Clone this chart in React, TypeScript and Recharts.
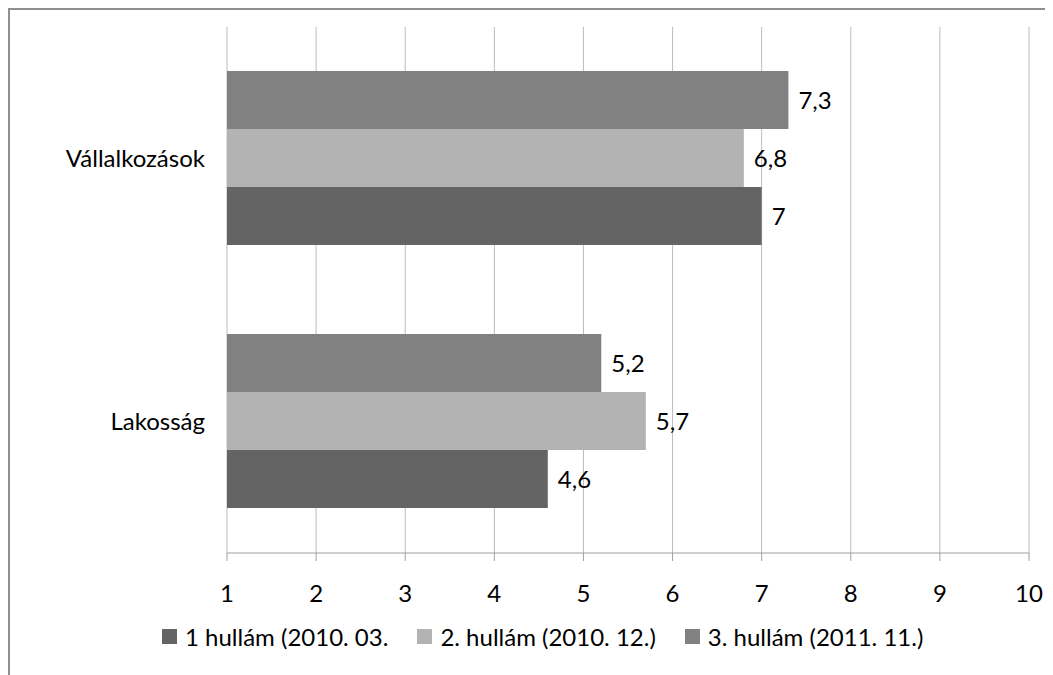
import React from "react";
import {
  BarChart,
  Bar,
  XAxis,
  YAxis,
  CartesianGrid,
  Legend,
  LabelList,
} from "recharts";

const categories = ["Vállalkozások", "Lakosság"];
const wave1 = [7, 4.6];
const wave2 = [6.8, 5.7];
const wave3 = [7.3, 5.2];
const seriesNames = [
  "1 hullám (2010. 03.",
  "2. hullám (2010. 12.)",
  "3. hullám (2011. 11.)",
];
const xTicks = [1, 2, 3, 4, 5, 6, 7, 8, 9, 10];
const bandEdges = [0, 1, 2];

const colors = ["#646464", "#b3b3b3", "#818181"];
const font = "Lato, 'Open Sans', sans-serif";

const data = categories.map((name, i) => ({
  name,
  w1: wave1[i],
  w2: wave2[i],
  w3: wave3[i],
}));

function fmt(v: any) {
  return String(v).replace(".", ",");
}

function LegendContent() {
  return (
    <div
      style={{
        display: "flex",
        alignItems: "center",
        height: 30,
        paddingLeft: 152,
        fontFamily: font,
        fontSize: 24,
        color: "#000",
      }}
    >
      {seriesNames.map((n, i) => (
        <div
          key={n}
          style={{ display: "flex", alignItems: "center", marginRight: 29 }}
        >
          <span
            style={{
              width: 15,
              height: 15,
              background: colors[i],
              display: "inline-block",
              marginRight: 8,
            }}
          />
          <span>{n}</span>
        </div>
      ))}
    </div>
  );
}

export default function App() {
  const labelStyle = { fontFamily: font, fontSize: 24, fill: "#000" };
  return (
    <div
      style={{
        width: 1043,
        height: 665,
        borderTop: "2px solid #909090",
        borderLeft: "2px solid #909090",
        background: "#fff",
      }}
    >
      <BarChart
        width={1043}
        height={665}
        data={data}
        layout="vertical"
        margin={{ top: 17, right: 24, left: 0, bottom: 32 }}
        barCategoryGap={44}
        barGap={0}
      >
        <CartesianGrid horizontal={false} stroke="#bcbcbc" strokeWidth={1} />
        <XAxis
          type="number"
          domain={[1, 10]}
          ticks={xTicks}
          interval={0}
          height={60}
          tickSize={8}
          tickMargin={24}
          stroke="#a0a0a0"
          tick={{ ...labelStyle }}
        />
        <YAxis
          yAxisId="edges"
          type="number"
          domain={[0, 2]}
          ticks={bandEdges}
          width={0}
          tick={false}
          tickSize={8}
          stroke="#a0a0a0"
        />
        <YAxis
          yAxisId="cat"
          type="category"
          dataKey="name"
          width={217}
          axisLine={false}
          tickLine={false}
          tickSize={0}
          tickMargin={22}
          tick={{ ...labelStyle }}
        />
        <Legend
          verticalAlign="bottom"
          height={30}
          content={<LegendContent />}
          wrapperStyle={{ bottom: 24, left: 0, width: 1043 }}
        />
        <Bar yAxisId="cat" dataKey="w3" name={seriesNames[2]} fill={colors[2]} isAnimationActive={false}>
          <LabelList dataKey="w3" position="right" offset={10} formatter={fmt} style={labelStyle} />
        </Bar>
        <Bar yAxisId="cat" dataKey="w2" name={seriesNames[1]} fill={colors[1]} isAnimationActive={false}>
          <LabelList dataKey="w2" position="right" offset={10} formatter={fmt} style={labelStyle} />
        </Bar>
        <Bar yAxisId="cat" dataKey="w1" name={seriesNames[0]} fill={colors[0]} isAnimationActive={false}>
          <LabelList dataKey="w1" position="right" offset={10} formatter={fmt} style={labelStyle} />
        </Bar>
      </BarChart>
    </div>
  );
}
